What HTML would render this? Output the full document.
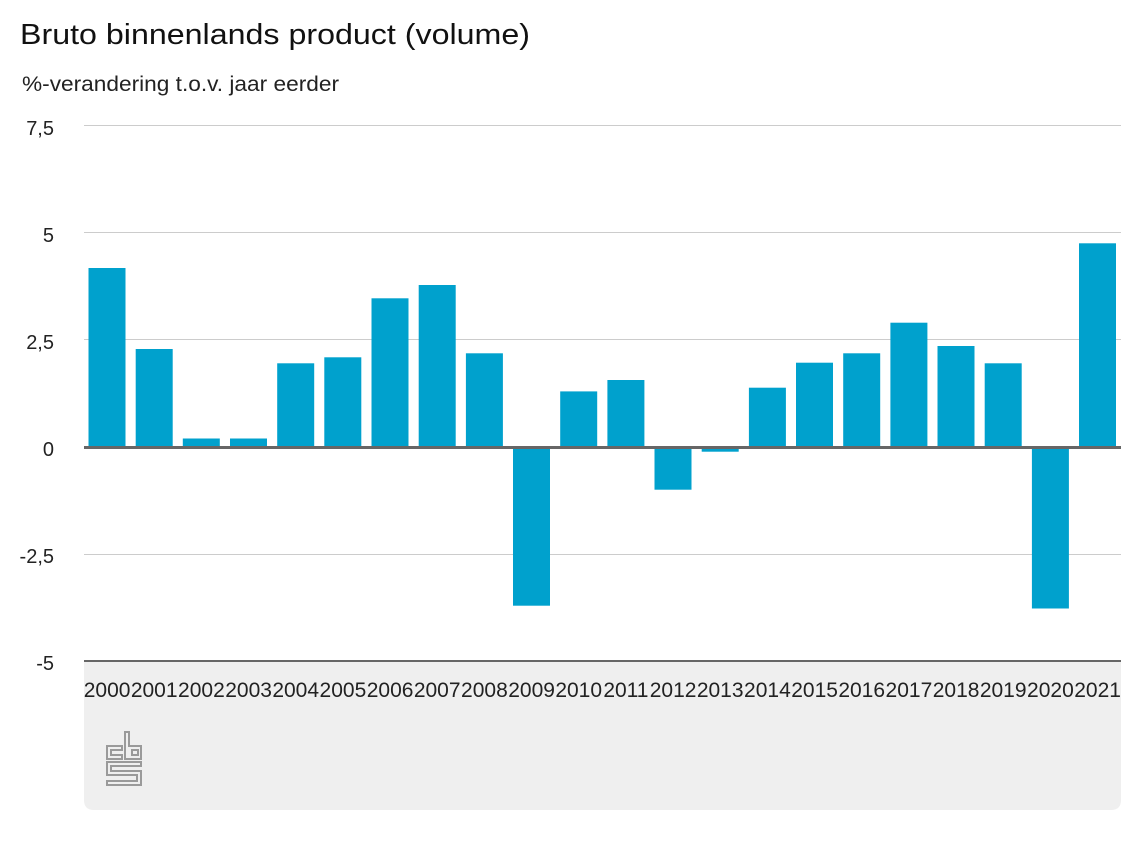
<!DOCTYPE html>
<html>
<head>
<meta charset="utf-8">
<style>
  html, body { margin:0; padding:0; background:#fff; }
  svg { display:block; font-family:"Liberation Sans", Arial, sans-serif; }
</style>
</head>
<body>
<svg width="1140" height="857" viewBox="0 0 1140 857" xmlns="http://www.w3.org/2000/svg">
  <rect x="0" y="0" width="1140" height="857" fill="#fff"/>
  <!-- Title -->
  <text x="20" y="44" font-size="29" fill="#111" textLength="510" lengthAdjust="spacingAndGlyphs">Bruto binnenlands product (volume)</text>
  <text x="22" y="91" font-size="21" fill="#222" textLength="317" lengthAdjust="spacingAndGlyphs">%-verandering t.o.v. jaar eerder</text>

  <!-- footer panel -->
  <path d="M84,661 H1121 V800 Q1121,810 1111,810 H94 Q84,810 84,800 Z" fill="#efefef"/>

  <!-- gridlines -->
  <g stroke="#cccccc" stroke-width="1">
    <line x1="84" y1="125.5" x2="1121" y2="125.5"/>
    <line x1="84" y1="232.5" x2="1121" y2="232.5"/>
    <line x1="84" y1="339.5" x2="1121" y2="339.5"/>
    <line x1="84" y1="554.5" x2="1121" y2="554.5"/>
  </g>

  <!-- y labels -->
  <g font-size="20" fill="#222" text-anchor="end">
    <text x="54" y="135">7,5</text>
    <text x="54" y="242">5</text>
    <text x="54" y="349">2,5</text>
    <text x="54" y="456">0</text>
    <text x="54" y="563">-2,5</text>
    <text x="54" y="670">-5</text>
  </g>

  <!-- bars -->
  <g fill="#00a1cd">
    <rect x="88.5" y="268" width="37" height="179"/>
    <rect x="135.7" y="349" width="37" height="98"/>
    <rect x="182.8" y="438.5" width="37" height="8.5"/>
    <rect x="230" y="438.5" width="37" height="8.5"/>
    <rect x="277.2" y="363.3" width="37" height="83.7"/>
    <rect x="324.3" y="357.3" width="37" height="89.7"/>
    <rect x="371.5" y="298.3" width="37" height="148.7"/>
    <rect x="418.7" y="285" width="37" height="162"/>
    <rect x="465.9" y="353.3" width="37" height="93.7"/>
    <rect x="513" y="447" width="37" height="158.7"/>
    <rect x="560.2" y="391.4" width="37" height="55.6"/>
    <rect x="607.4" y="380" width="37" height="67"/>
    <rect x="654.5" y="447" width="37" height="42.7"/>
    <rect x="701.7" y="447" width="37" height="4.7"/>
    <rect x="748.9" y="387.7" width="37" height="59.3"/>
    <rect x="796" y="362.7" width="37" height="84.3"/>
    <rect x="843.2" y="353.3" width="37" height="93.7"/>
    <rect x="890.4" y="322.7" width="37" height="124.3"/>
    <rect x="937.5" y="346" width="37" height="101"/>
    <rect x="984.7" y="363.3" width="37" height="83.7"/>
    <rect x="1031.9" y="447" width="37" height="161.5"/>
    <rect x="1079" y="243.3" width="37" height="203.7"/>
  </g>

  <!-- zero line -->
  <line x1="84" y1="447.5" x2="1121" y2="447.5" stroke="#666" stroke-width="3"/>
  <!-- bottom axis -->
  <line x1="84" y1="661" x2="1121" y2="661" stroke="#666" stroke-width="2"/>

  <!-- year labels -->
  <g font-size="21" fill="#222" text-anchor="middle">
    <text x="107.1" y="697">2000</text>
    <text x="154.2" y="697">2001</text>
    <text x="201.4" y="697">2002</text>
    <text x="248.6" y="697">2003</text>
    <text x="295.7" y="697">2004</text>
    <text x="342.9" y="697">2005</text>
    <text x="390.1" y="697">2006</text>
    <text x="437.2" y="697">2007</text>
    <text x="484.4" y="697">2008</text>
    <text x="531.6" y="697">2009</text>
    <text x="578.7" y="697">2010</text>
    <text x="625.9" y="697">2011</text>
    <text x="673.1" y="697">2012</text>
    <text x="720.2" y="697">2013</text>
    <text x="767.4" y="697">2014</text>
    <text x="814.6" y="697">2015</text>
    <text x="861.7" y="697">2016</text>
    <text x="908.9" y="697">2017</text>
    <text x="956.1" y="697">2018</text>
    <text x="1003.2" y="697">2019</text>
    <text x="1050.4" y="697">2020</text>
    <text x="1097.6" y="697">2021</text>
  </g>

  <!-- CBS logo -->
  <g transform="translate(107,732)" fill="none" stroke="#9a9a9a" stroke-width="2" stroke-linejoin="miter">
    <path d="M15,14 H0 V27 H15 V23 H4 V18 H15 Z"/>
    <path d="M18,0 H22 V14 H34 V27 H18 Z"/>
    <rect x="25" y="18" width="6" height="5"/>
    <path d="M0,30 H34 V34 H4 V39 H34 V53 H0 V49 H30 V43 H0 Z"/>
  </g>
</svg>
</body>
</html>
